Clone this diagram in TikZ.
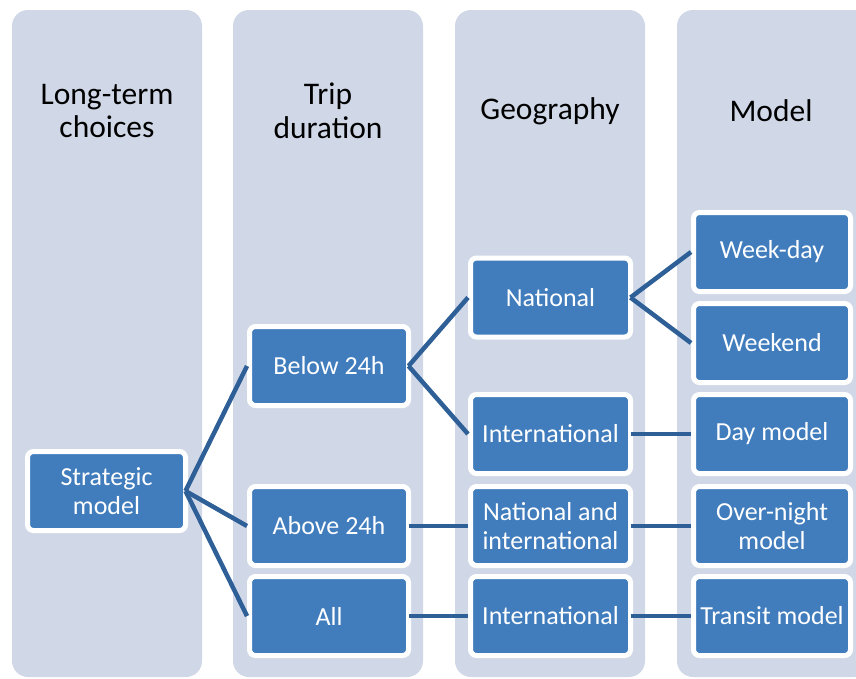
\documentclass[tikz,border=0pt]{standalone}
\usepackage{fontspec}
\setmainfont{Carlito}
\definecolor{colbg}{RGB}{208,216,232}
\definecolor{boxfill}{RGB}{65,125,189}
\definecolor{linec}{RGB}{46,96,151}
\begin{document}
\begin{tikzpicture}[x=1pt,y=-1pt,
  column/.style={fill=colbg,rounded corners=16pt},
  head/.style={align=center,font=\fontsize{31.5}{33.5}\selectfont,text=black},
  box/.style={draw=white,line width=5pt,fill=boxfill,rounded corners=6pt,
    minimum height=79pt,inner sep=0pt,align=center,text=white,
    font=\fontsize{26}{29.5}\selectfont},
  b1/.style={box,minimum width=158pt},
  b2/.style={box,minimum width=159pt},
  b3/.style={box,minimum width=160pt},
  b4/.style={box,minimum width=157pt},
  conn/.style={draw=linec,line width=4.5pt}]
\useasboundingbox (0,0) rectangle (856,678);
\fill[white] (0,0) rectangle (856,678);
\fill[column] (12,10) rectangle (202,677);
\fill[column] (233,10) rectangle (423,677);
\fill[column] (455,10) rectangle (645,677);
\fill[column] (677,10) rectangle (870,677);
\node[head] (h1) at (107,111) {Long-term\\choices};
\node[head] (h2) at (328,111) {Trip\\duration};
\node[head] (h3) at (550,111) {Geography};
\node[head] (h4) at (771,111) {Model};
\node[b1] (sm) at (106.5,491) {Strategic\\model};
\node[b2] (b24) at (329,366) {Below 24h};
\node[b2] (a24) at (329,526) {Above 24h};
\node[b2] (all) at (329,616) {All};
\node[b3] (nat) at (550.5,297.5) {National};
\node[b3] (int1) at (550.5,434) {International};
\node[b3] (natint) at (550.5,526) {National and\\international};
\node[b3] (int2) at (550.5,616) {International};
\node[b4] (wd) at (772,252) {Week-day};
\node[b4] (we) at (772,343) {Weekend};
\node[b4] (day) at (772,434) {Day model};
\node[b4] (on) at (772,526) {Over-night\\model};
\node[b4] (tr) at (772,616) {Transit model};
\foreach \a/\b in {sm/b24,sm/a24,sm/all,b24/nat,b24/int1,a24/natint,all/int2,nat/wd,nat/we,int1/day,natint/on,int2/tr}
  \draw[conn] ([xshift=-2.5pt]\a.east) -- (\b.west);
\end{tikzpicture}
\end{document}
